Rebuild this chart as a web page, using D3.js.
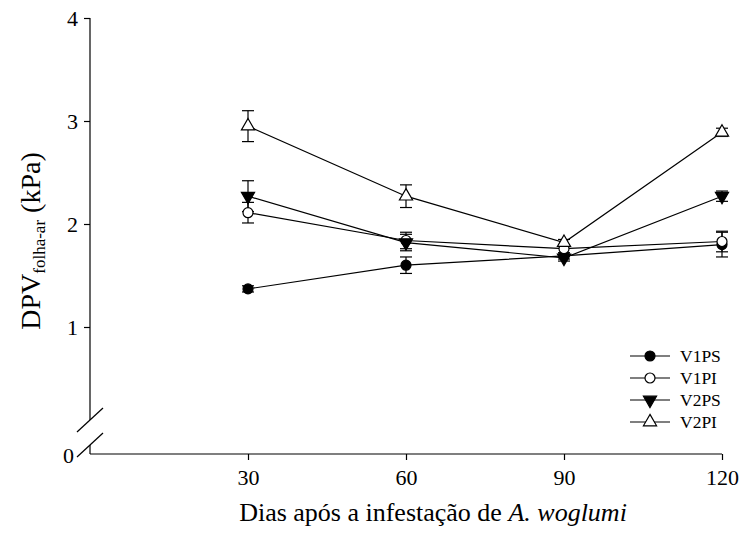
<!DOCTYPE html>
<meta charset="utf-8">
<style>
    body { margin: 0; background: #fff; }
    svg text, svg tspan { font-family: "Liberation Serif", "Times New Roman", serif; fill: #000; }
    .axis path, .axis line { stroke: #000; stroke-width: 1.2px; }
    .series path { fill: none; stroke: #000; stroke-width: 1.2px; }
    .err line { stroke: #000; stroke-width: 1.2px; }
</style>
<svg width="741" height="535"></svg>
<script src="https://d3js.org/d3.v7.min.js"></script>
<script>
    // data
    var days = [30, 60, 90, 120];
    var seriesNames = ["V1PS", "V1PI", "V2PS", "V2PI"];
    var v1ps = [1.37, 1.60, 1.69, 1.80];
    var v1pi = [2.11, 1.84, 1.76, 1.83];
    var v2ps = [2.27, 1.82, 1.67, 2.27];
    var v2pi = [2.95, 2.27, 1.82, 2.89];
    var v1psErr = [0.03, 0.08, 0.03, 0.12];
    var v1piErr = [0.10, 0.08, 0.04, 0.10];
    var v2psErr = [0.15, 0.08, 0.03, 0.05];
    var v2piErr = [0.15, 0.11, 0.03, 0.04];
    var yTicks = [1, 2, 3, 4];
    var xTicks = [30, 60, 90, 120];

    var series = [
        {name: seriesNames[0], values: v1ps, err: v1psErr, shape: "circle", fill: "#000"},
        {name: seriesNames[1], values: v1pi, err: v1piErr, shape: "circle", fill: "#fff"},
        {name: seriesNames[2], values: v2ps, err: v2psErr, shape: "down", fill: "#000"},
        {name: seriesNames[3], values: v2pi, err: v2piErr, shape: "up", fill: "#fff"}
    ];

    var svg = d3.select("svg");

    var x = d3.scaleLinear().domain([0, 120]).range([90, 722]);
    var y = d3.scaleLinear().domain([0, 4]).range([430, 18]);
    var xAxisY = 454,
        breakTop = 420,
        breakBottom = 445;

    // x axis
    var xAxis = svg.append("g")
        .attr("class", "axis")
        .attr("transform", "translate(0," + xAxisY + ")")
        .call(d3.axisBottom(x).tickValues(xTicks).tickSize(6).tickSizeOuter(0).tickPadding(9));
    xAxis.select(".domain").attr("d", "M" + x(0) + ",0H" + x(120));
    xAxis.selectAll(".tick text").style("font-size", "22px");

    // y axis (broken)
    var yAxis = svg.append("g")
        .attr("class", "axis")
        .attr("transform", "translate(" + x(0) + ",0)")
        .call(d3.axisLeft(y).tickValues(yTicks).tickFormat(d3.format("d")).tickSize(6).tickPadding(6));
    yAxis.select(".domain").remove();
    yAxis.selectAll(".tick text").style("font-size", "22px");

    svg.append("line").attr("x1", x(0)).attr("x2", x(0)).attr("y1", y(4)).attr("y2", breakTop)
        .attr("stroke", "#000").attr("stroke-width", 1.2);
    svg.append("line").attr("x1", x(0)).attr("x2", x(0)).attr("y1", breakBottom).attr("y2", xAxisY)
        .attr("stroke", "#000").attr("stroke-width", 1.2);
    [breakTop, breakBottom].forEach(function(yy) {
        svg.append("line")
            .attr("x1", x(0) - 13).attr("y1", yy + 12)
            .attr("x2", x(0) + 13).attr("y2", yy - 12)
            .attr("stroke", "#000").attr("stroke-width", 1.2);
    });
    svg.append("text")
        .attr("x", 74).attr("y", xAxisY + 9)
        .attr("text-anchor", "end")
        .style("font-size", "22px")
        .text("0");

    // axis titles
    var xTitle = svg.append("text")
        .attr("x", 433).attr("y", 521)
        .attr("text-anchor", "middle")
        .style("font-size", "26px");
    xTitle.append("tspan").text("Dias após a infestação de ");
    xTitle.append("tspan").style("font-style", "italic").text("A. woglumi");

    var yTitle = svg.append("text")
        .attr("transform", "translate(40,241) rotate(-90)")
        .attr("text-anchor", "middle")
        .style("font-size", "28px");
    yTitle.append("tspan").text("DPV");
    yTitle.append("tspan").attr("dy", 5).style("font-size", "17px").text("folha-ar");
    yTitle.append("tspan").attr("dy", -5).text(" (kPa)");

    var tri = d3.symbol().type(d3.symbolTriangle).size(75);

    function drawMarker(g, s) {
        if (s.shape === "circle") {
            g.append("circle").attr("r", 5)
                .attr("fill", s.fill).attr("stroke", "#000").attr("stroke-width", 1.2);
        } else {
            g.append("path").attr("d", tri)
                .attr("transform", s.shape === "down" ? "rotate(180)" : null)
                .attr("fill", s.fill).attr("stroke", "#000").attr("stroke-width", 1.2);
        }
    }

    var line = d3.line()
        .x(function(d, i) { return x(days[i]); })
        .y(function(d) { return y(d); });

    // lines and error bars
    series.forEach(function(s) {
        var g = svg.append("g").attr("class", "series");
        g.append("path").attr("d", line(s.values));
        var e = svg.append("g").attr("class", "err");
        s.values.forEach(function(v, i) {
            var cx = x(days[i]), lo = y(v - s.err[i]), hi = y(v + s.err[i]);
            e.append("line").attr("x1", cx).attr("x2", cx).attr("y1", lo).attr("y2", hi);
            e.append("line").attr("x1", cx - 6).attr("x2", cx + 6).attr("y1", lo).attr("y2", lo);
            e.append("line").attr("x1", cx - 6).attr("x2", cx + 6).attr("y1", hi).attr("y2", hi);
        });
    });

    // markers
    series.forEach(function(s) {
        s.values.forEach(function(v, i) {
            var m = svg.append("g").attr("transform", "translate(" + x(days[i]) + "," + y(v) + ")");
            drawMarker(m, s);
        });
    });

    // legend
    var legend = svg.append("g").attr("transform", "translate(630,356)");
    series.forEach(function(s, i) {
        var row = legend.append("g").attr("transform", "translate(0," + (i * 22) + ")");
        row.append("line").attr("x1", 0).attr("x2", 40).attr("y1", 0).attr("y2", 0)
            .attr("stroke", "#000").attr("stroke-width", 1.2);
        var m = row.append("g").attr("transform", "translate(20,0)");
        drawMarker(m, s);
        row.append("text").attr("x", 50).attr("y", 6)
            .style("font-size", "17.5px")
            .text(s.name);
    });
</script>
